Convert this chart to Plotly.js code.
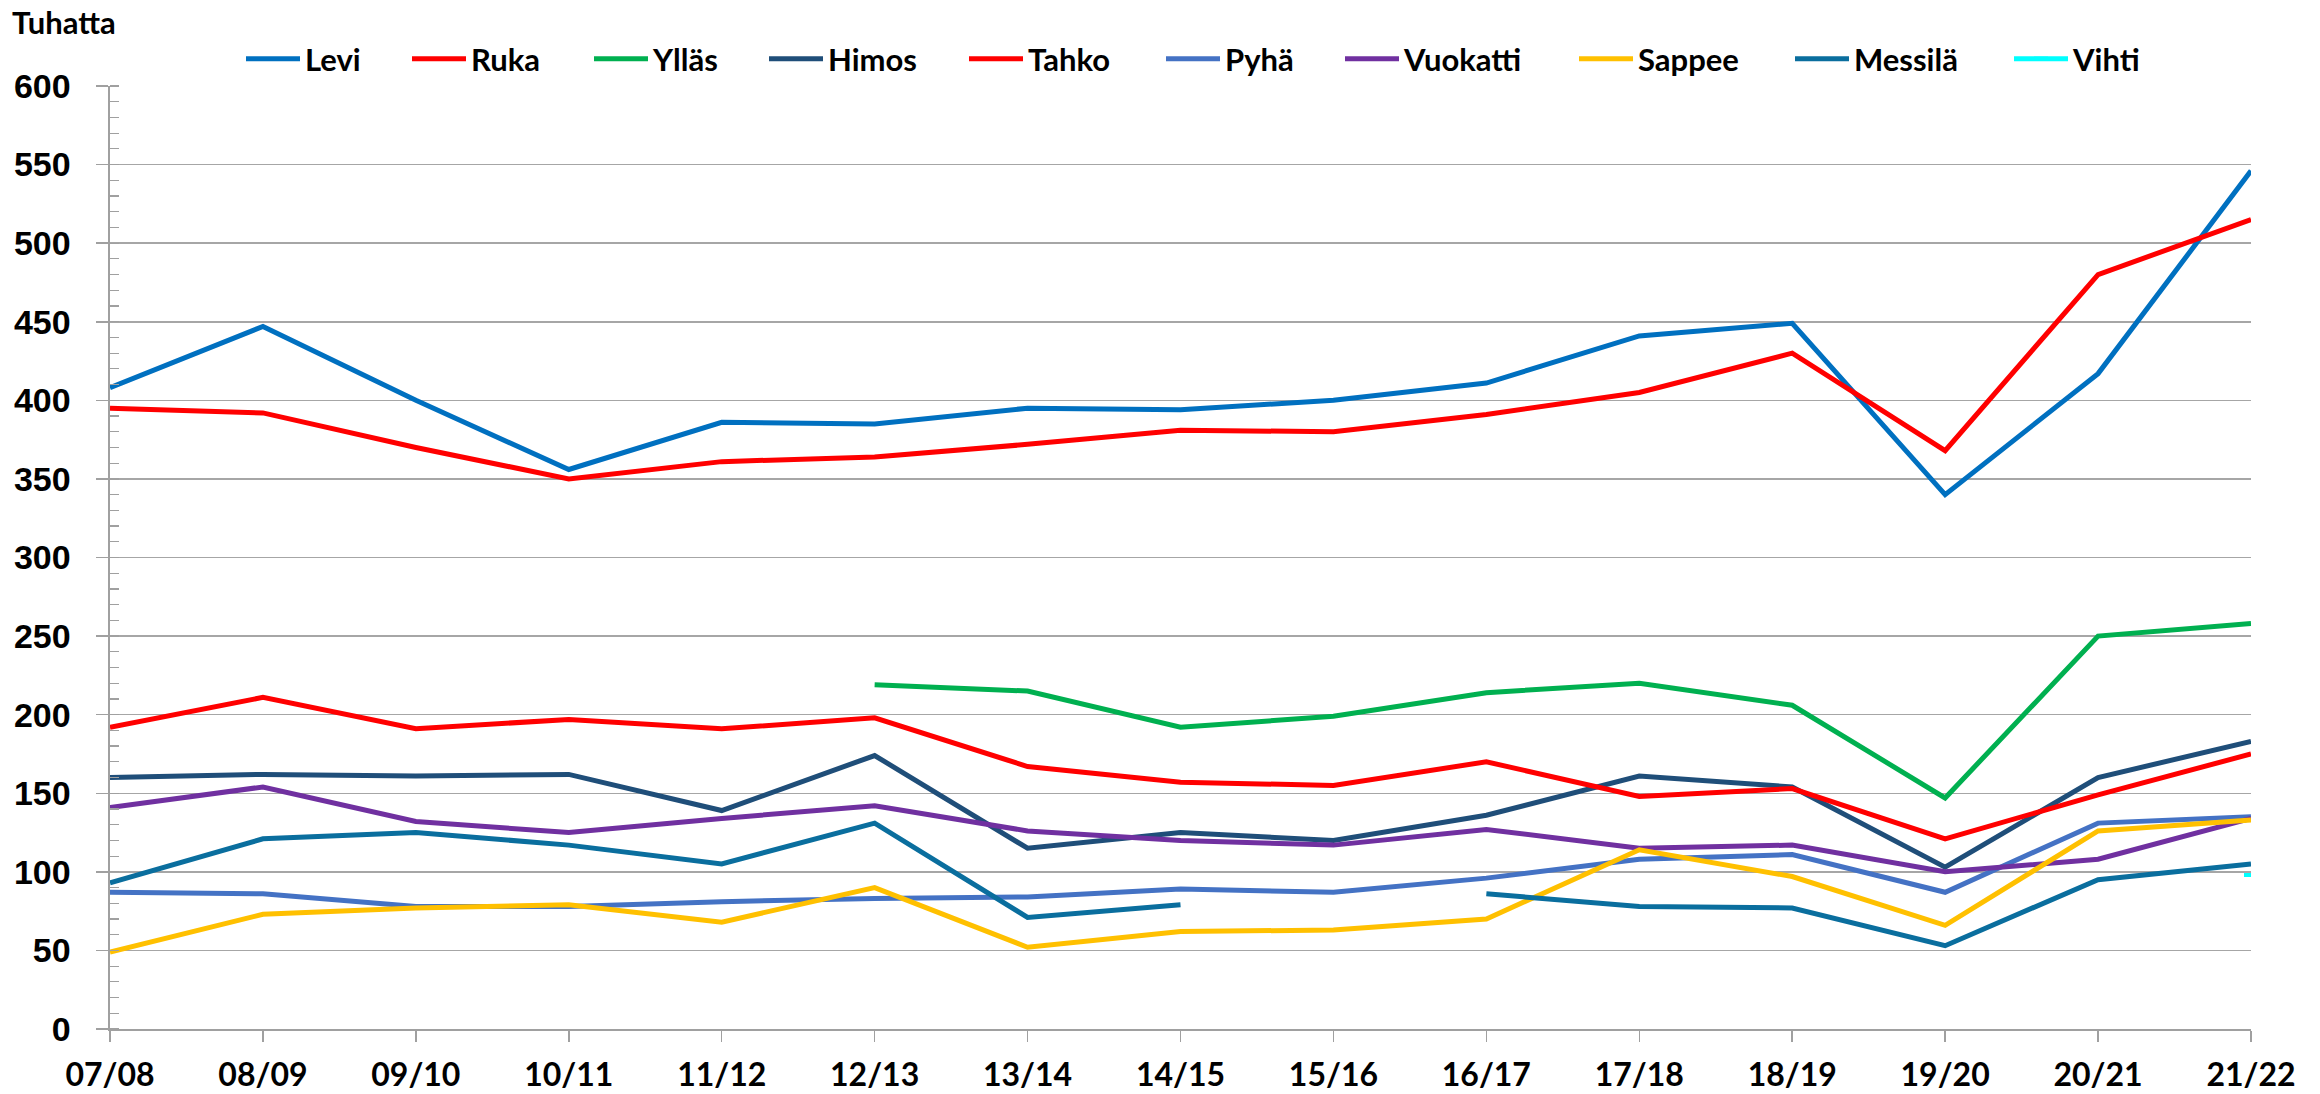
<!DOCTYPE html>
<html>
<head>
<meta charset="utf-8">
<script src="https://cdn.plot.ly/plotly-3.0.1.min.js"></script>
<style>
  html, body { margin: 0; padding: 0; background: #ffffff; }
  #chart { width: 2320px; height: 1094px; }
</style>
</head>
<body>
<div id="chart"></div>
<script>
// ---- Data (thousands) ----
const seasons = ['07/08','08/09','09/10','10/11','11/12','12/13','13/14','14/15','15/16','16/17','17/18','18/19','19/20','20/21','21/22'];

const levi     = [408, 447, 400, 356, 386, 385, 395, 394, 400, 411, 441, 449, 340, 417, 546];
const ruka     = [395, 392, 370, 350, 361, 364, 372, 381, 380, 391, 405, 430, 368, 480, 515];
const yllas    = [null, null, null, null, null, 219, 215, 192, 199, 214, 220, 206, 147, 250, 258];
const himos    = [160, 162, 161, 162, 139, 174, 115, 125, 120, 136, 161, 154, 103, 160, 183];
const tahko    = [192, 211, 191, 197, 191, 198, 167, 157, 155, 170, 148, 153, 121, 149, 175];
const pyha     = [87, 86, 78, 78, 81, 83, 84, 89, 87, 96, 108, 111, 87, 131, 135];
const vuokatti = [141, 154, 132, 125, 134, 142, 126, 120, 117, 127, 115, 117, 100, 108, 134];
const sappee   = [49, 73, 77, 79, 68, 90, 52, 62, 63, 70, 114, 97, 66, 126, 133];
const messila  = [93, 121, 125, 117, 105, 131, 71, 79, null, 86, 78, 77, 53, 95, 105];
const vihti    = [null, null, null, null, null, null, null, null, null, null, null, null, null, null, 98];

const seriesNames = ['Levi','Ruka','Ylläs','Himos','Tahko','Pyhä','Vuokatti','Sappee','Messilä','Vihti'];
const seriesValues = [levi, ruka, yllas, himos, tahko, pyha, vuokatti, sappee, messila, vihti];

const yTickVals = [0, 50, 100, 150, 200, 250, 300, 350, 400, 450, 500, 550, 600];
const yTitle = 'Tuhatta';

// ---- Styles ----
const colors = ['#0070C0','#FF0000','#00B050','#1F4E79','#FF0000','#4472C4','#7030A0','#FFC000','#0A6E9E','#00FFFF'];
const W = 2320, H = 1094;
const M = {l: 110, r: 69, t: 86, b: 65};
const plotW = W - M.l - M.r;
// legend line-sample start positions (px) in the reference
const legendStartPx = [246, 412, 594, 769, 969, 1166, 1345, 1579, 1795, 2014];
const labelFont = 'Lato, "Open Sans", sans-serif';

const traces = seriesNames.map((name, i) => {
  const t = {
    type: 'scatter',
    mode: name === 'Vihti' ? 'lines+markers' : 'lines',
    name: name,
    x: seasons,
    y: seriesValues[i],
    line: {color: colors[i], width: 5},
    legend: i === 0 ? 'legend' : 'legend' + (i + 1),
    hoverinfo: 'x+y+name'
  };
  if (name === 'Vihti') {
    t.marker = {symbol: 'line-ew', size: 10, line: {color: colors[i], width: 4}, color: colors[i]};
  }
  return t;
});

const layout = {
  width: W, height: H,
  margin: M,
  paper_bgcolor: '#ffffff',
  plot_bgcolor: '#ffffff',
  showlegend: true,
  xaxis: {
    type: 'category',
    range: [0, seasons.length - 1],
    showgrid: false,
    zeroline: false,
    showline: true,
    linecolor: '#A0A0A0',
    linewidth: 2,
    ticks: 'outside',
    ticklen: 11,
    tickwidth: 1.5,
    tickcolor: '#A0A0A0',
    tickfont: {family: labelFont, size: 32, color: '#000000', weight: 'bold'},
    ticklabelstandoff: 6,
    fixedrange: true
  },
  yaxis: {
    range: [0, 600],
    tickvals: yTickVals,
    ticktext: yTickVals.map(String),
    showgrid: true,
    gridcolor: '#A6A6A6',
    gridwidth: 1.5,
    zeroline: false,
    showline: true,
    linecolor: '#A0A0A0',
    linewidth: 2.5,
    ticks: 'outside',
    ticklen: 12,
    tickwidth: 1.5,
    tickcolor: '#A0A0A0',
    tickfont: {family: '"Liberation Sans", Arial, sans-serif', size: 34, color: '#000000', weight: 'bold'},
    ticklabelstandoff: 18,
    minor: {dtick: 10, ticks: 'inside', ticklen: 9, tickwidth: 1.2, tickcolor: '#A0A0A0', showgrid: false},
    fixedrange: true
  },
  annotations: [{
    text: yTitle,
    xref: 'paper', yref: 'paper',
    x: (10 - M.l) / plotW, xanchor: 'left',
    y: 1 + (M.t - 22) / (H - M.t - M.b), yanchor: 'middle',
    showarrow: false,
    font: {family: labelFont, size: 31, color: '#000000', weight: 'bold'}
  }]
};

legendStartPx.forEach((px, i) => {
  const key = i === 0 ? 'legend' : 'legend' + (i + 1);
  layout[key] = {
    orientation: 'h',
    x: (px - 5 - M.l) / plotW,
    xanchor: 'left',
    y: 1 + (M.t - 59) / (H - M.t - M.b),
    yanchor: 'middle',
    bgcolor: 'rgba(0,0,0,0)',
    borderwidth: 0,
    itemwidth: 54,
    font: {family: labelFont, size: 31, color: '#000000', weight: 'bold'}
  };
});

Plotly.newPlot('chart', traces, layout, {displayModeBar: false, staticPlot: true});
</script>
</body>
</html>
